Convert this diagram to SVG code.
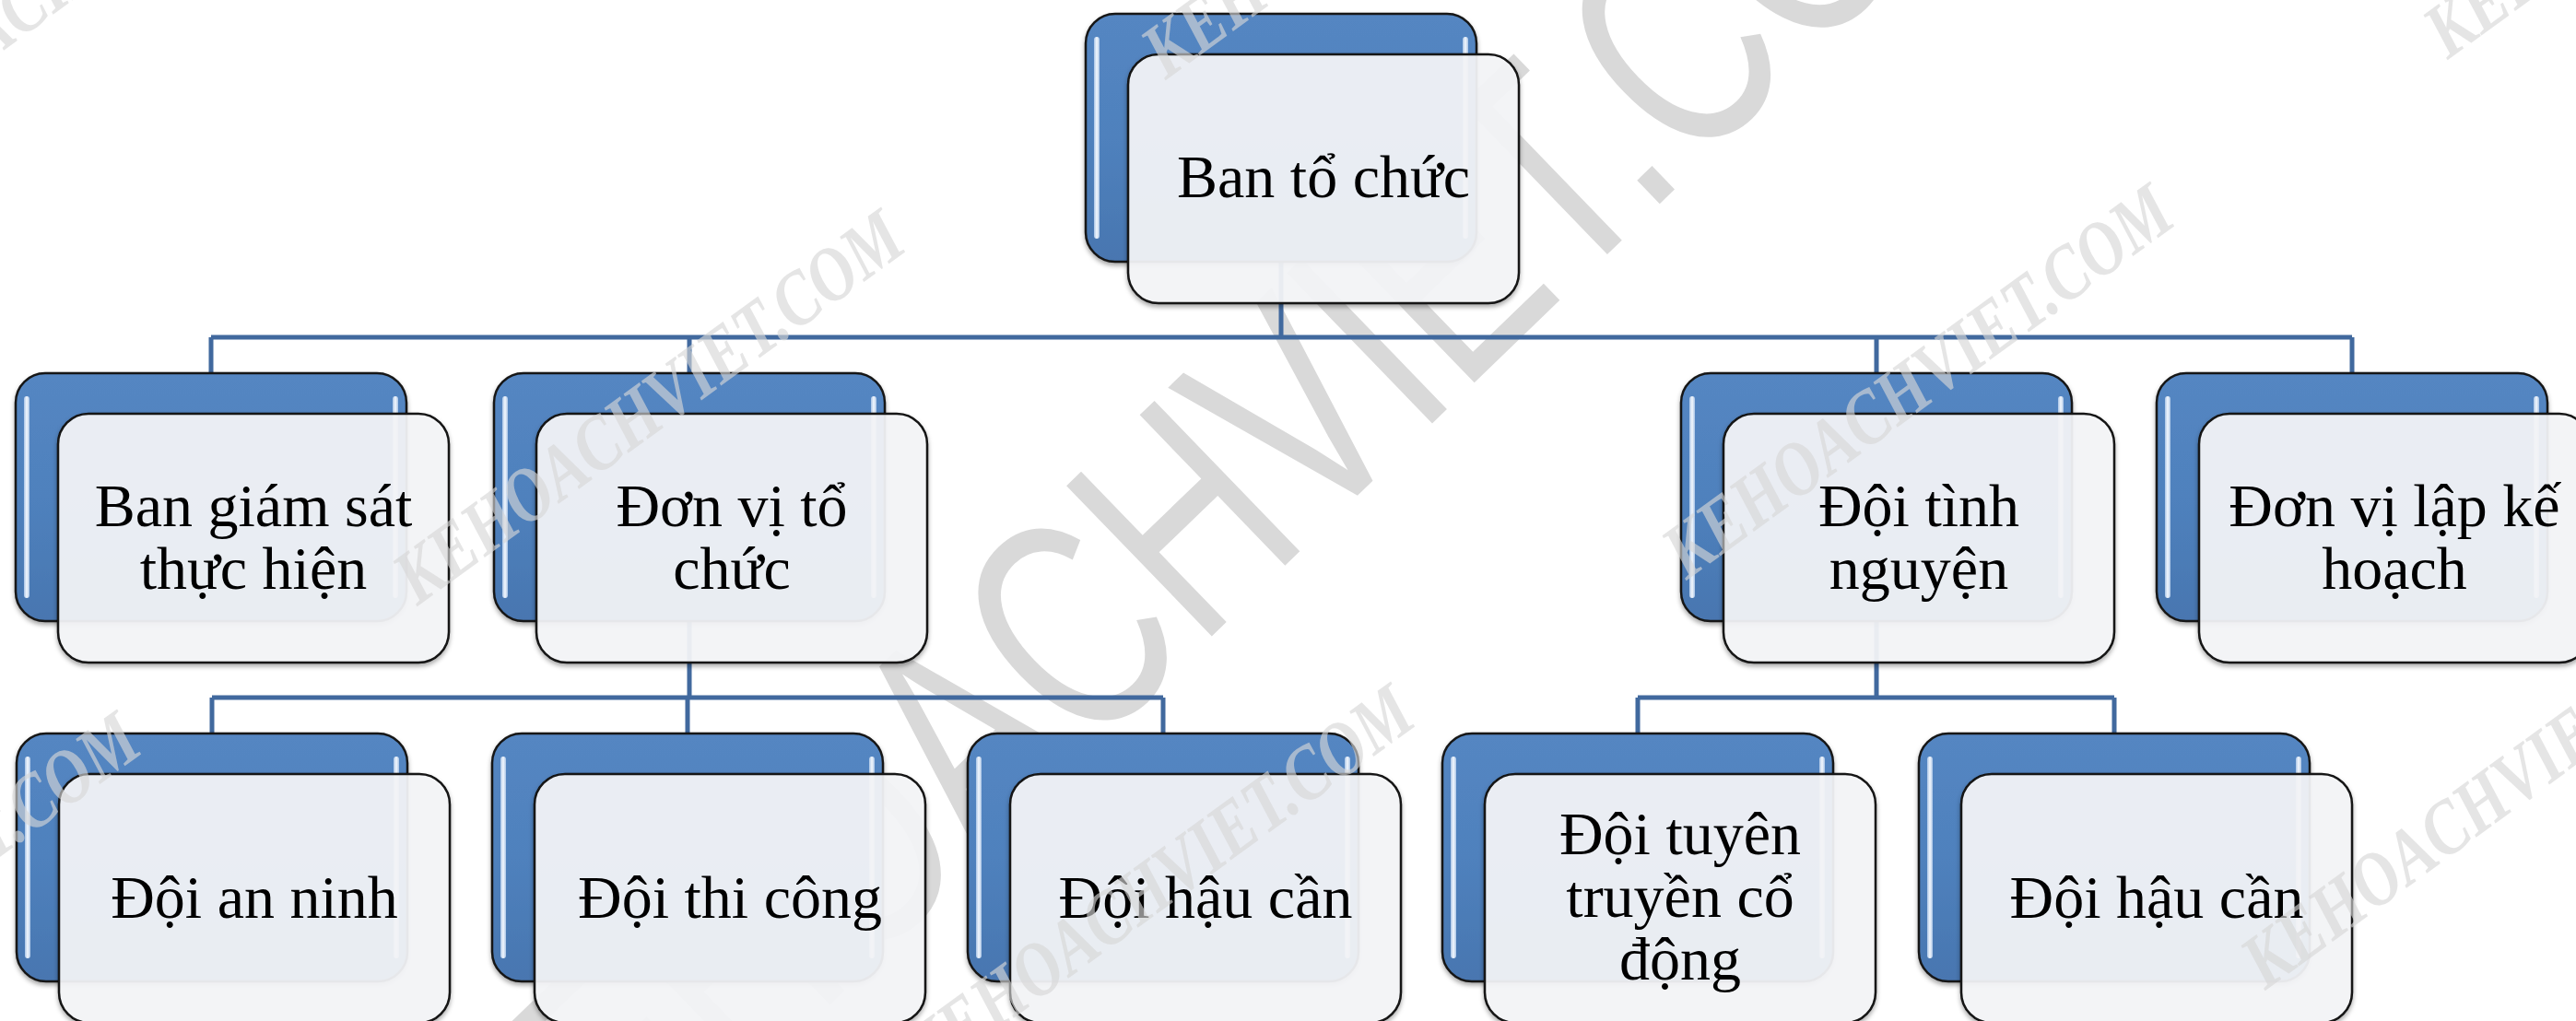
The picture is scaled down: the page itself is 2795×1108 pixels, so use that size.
<svg xmlns="http://www.w3.org/2000/svg" width="2795" height="1108" viewBox="0 0 2795 1108">
<defs>
<style>
.back{fill:url(#blueGrad);stroke:#161616;stroke-width:2.5;}
.hl{fill:url(#hlGrad);}
.front{fill:#F5F6F8;fill-opacity:0.92;stroke:#121212;stroke-width:2.5;}
.conn{stroke:#41699E;stroke-width:5;fill:none;}
.lbl{font-family:"Liberation Serif","Times New Roman",serif;font-size:66px;fill:#000;text-anchor:middle;}
.wm{font-family:"Liberation Serif","Times New Roman",serif;font-weight:bold;font-style:italic;font-size:84px;fill:#D6D6D6;fill-opacity:0.64;}
.bigwm{font-family:"Liberation Sans",Arial,sans-serif;font-size:330px;fill:#D9D9D9;}
</style>
<linearGradient id="blueGrad" x1="0" y1="0" x2="0" y2="1">
<stop offset="0" stop-color="#5486C2"/>
<stop offset="0.5" stop-color="#4F81BD"/>
<stop offset="1" stop-color="#4876B0"/>
</linearGradient>
<linearGradient id="hlGrad" x1="0" y1="0" x2="1" y2="0">
<stop offset="0" stop-color="#A9C4E6"/>
<stop offset="0.5" stop-color="#F4F8FD"/>
<stop offset="1" stop-color="#A9C4E6"/>
</linearGradient>
<filter id="sh" x="-5%" y="-5%" width="110%" height="115%">
<feDropShadow dx="0" dy="3" stdDeviation="2.5" flood-color="#000" flood-opacity="0.35"/>
</filter>
</defs>

<rect x="0" y="0" width="2795" height="1108" fill="#FFFFFF"/>

<g id="watermark-big">
<text class="bigwm" transform="translate(579 1401) rotate(-44) scale(0.72 1)">KEHOACHVIET.COM</text>
</g>

<g id="connectors" class="conn">
<path d="M1390 283 V366 M229 366 H2552 M229 366 V405 M748 366 V405 M2036 366 V405 M2552 366 V405"/>
<path d="M748 674 V757 M230 757 H1262 M230 757 V796 M746 757 V796 M1262 757 V796"/>
<path d="M2036 674 V757 M1777 757 H2294 M1777 757 V796 M2294 757 V796"/>
</g>

<g id="node-ban-to-chuc" transform="translate(1178 15)">
<rect class="back" filter="url(#sh)" x="0" y="0" width="424" height="269" rx="32"/>
<rect class="hl" x="9" y="25" width="6" height="219" rx="3"/>
<rect class="hl" x="409" y="25" width="6" height="219" rx="3"/>
<rect class="front" filter="url(#sh)" x="46" y="44" width="424" height="270" rx="33"/>
<text class="lbl" x="258" y="199">Ban tổ chức</text>
</g>

<g id="node-ban-giam-sat" transform="translate(17 405)">
<rect class="back" filter="url(#sh)" x="0" y="0" width="424" height="269" rx="32"/>
<rect class="hl" x="9" y="25" width="6" height="219" rx="3"/>
<rect class="hl" x="409" y="25" width="6" height="219" rx="3"/>
<rect class="front" filter="url(#sh)" x="46" y="44" width="424" height="270" rx="33"/>
<text class="lbl" x="258" y="166">Ban giám sát</text>
<text class="lbl" x="258" y="234">thực hiện</text>
</g>

<g id="node-don-vi-to-chuc" transform="translate(536 405)">
<rect class="back" filter="url(#sh)" x="0" y="0" width="424" height="269" rx="32"/>
<rect class="hl" x="9" y="25" width="6" height="219" rx="3"/>
<rect class="hl" x="409" y="25" width="6" height="219" rx="3"/>
<rect class="front" filter="url(#sh)" x="46" y="44" width="424" height="270" rx="33"/>
<text class="lbl" x="258" y="166">Đơn vị tổ</text>
<text class="lbl" x="258" y="234">chức</text>
</g>

<g id="node-doi-tinh-nguyen" transform="translate(1824 405)">
<rect class="back" filter="url(#sh)" x="0" y="0" width="424" height="269" rx="32"/>
<rect class="hl" x="9" y="25" width="6" height="219" rx="3"/>
<rect class="hl" x="409" y="25" width="6" height="219" rx="3"/>
<rect class="front" filter="url(#sh)" x="46" y="44" width="424" height="270" rx="33"/>
<text class="lbl" x="258" y="166">Đội tình</text>
<text class="lbl" x="258" y="234">nguyện</text>
</g>

<g id="node-don-vi-lap-ke-hoach" transform="translate(2340 405)">
<rect class="back" filter="url(#sh)" x="0" y="0" width="424" height="269" rx="32"/>
<rect class="hl" x="9" y="25" width="6" height="219" rx="3"/>
<rect class="hl" x="409" y="25" width="6" height="219" rx="3"/>
<rect class="front" filter="url(#sh)" x="46" y="44" width="424" height="270" rx="33"/>
<text class="lbl" x="258" y="166">Đơn vị lập kế</text>
<text class="lbl" x="258" y="234">hoạch</text>
</g>

<g id="node-doi-an-ninh" transform="translate(18 796)">
<rect class="back" filter="url(#sh)" x="0" y="0" width="424" height="269" rx="32"/>
<rect class="hl" x="9" y="25" width="6" height="219" rx="3"/>
<rect class="hl" x="409" y="25" width="6" height="219" rx="3"/>
<rect class="front" filter="url(#sh)" x="46" y="44" width="424" height="270" rx="33"/>
<text class="lbl" x="258" y="200">Đội an ninh</text>
</g>

<g id="node-doi-thi-cong" transform="translate(534 796)">
<rect class="back" filter="url(#sh)" x="0" y="0" width="424" height="269" rx="32"/>
<rect class="hl" x="9" y="25" width="6" height="219" rx="3"/>
<rect class="hl" x="409" y="25" width="6" height="219" rx="3"/>
<rect class="front" filter="url(#sh)" x="46" y="44" width="424" height="270" rx="33"/>
<text class="lbl" x="258" y="200">Đội thi công</text>
</g>

<g id="node-doi-hau-can-1" transform="translate(1050 796)">
<rect class="back" filter="url(#sh)" x="0" y="0" width="424" height="269" rx="32"/>
<rect class="hl" x="9" y="25" width="6" height="219" rx="3"/>
<rect class="hl" x="409" y="25" width="6" height="219" rx="3"/>
<rect class="front" filter="url(#sh)" x="46" y="44" width="424" height="270" rx="33"/>
<text class="lbl" x="258" y="200">Đội hậu cần</text>
</g>

<g id="node-doi-tuyen-truyen" transform="translate(1565 796)">
<rect class="back" filter="url(#sh)" x="0" y="0" width="424" height="269" rx="32"/>
<rect class="hl" x="9" y="25" width="6" height="219" rx="3"/>
<rect class="hl" x="409" y="25" width="6" height="219" rx="3"/>
<rect class="front" filter="url(#sh)" x="46" y="44" width="424" height="270" rx="33"/>
<text class="lbl" x="258" y="131">Đội tuyên</text>
<text class="lbl" x="258" y="199">truyền cổ</text>
<text class="lbl" x="258" y="267">động</text>
</g>

<g id="node-doi-hau-can-2" transform="translate(2082 796)">
<rect class="back" filter="url(#sh)" x="0" y="0" width="424" height="269" rx="32"/>
<rect class="hl" x="9" y="25" width="6" height="219" rx="3"/>
<rect class="hl" x="409" y="25" width="6" height="219" rx="3"/>
<rect class="front" filter="url(#sh)" x="46" y="44" width="424" height="270" rx="33"/>
<text class="lbl" x="258" y="200">Đội hậu cần</text>
</g>

<g id="watermarks-small">
<text class="wm" textLength="660" lengthAdjust="spacingAndGlyphs" transform="translate(453 658) rotate(-36)">KEHOACHVIET.COM</text>
<text class="wm" textLength="660" lengthAdjust="spacingAndGlyphs" transform="translate(1830 630) rotate(-36)">KEHOACHVIET.COM</text>
<text class="wm" textLength="660" lengthAdjust="spacingAndGlyphs" transform="translate(1006 1173) rotate(-36)">KEHOACHVIET.COM</text>
<text class="wm" textLength="660" lengthAdjust="spacingAndGlyphs" transform="translate(-376 1203) rotate(-36)">KEHOACHVIET.COM</text>
<text class="wm" textLength="660" lengthAdjust="spacingAndGlyphs" transform="translate(2458 1075) rotate(-36)">KEHOACHVIET.COM</text>
<text class="wm" textLength="660" lengthAdjust="spacingAndGlyphs" transform="translate(1265 87) rotate(-36)">KEHOACHVIET.COM</text>
<text class="wm" textLength="660" lengthAdjust="spacingAndGlyphs" transform="translate(-171 182) rotate(-36)">KEHOACHVIET.COM</text>
<text class="wm" textLength="660" lengthAdjust="spacingAndGlyphs" transform="translate(2656 65) rotate(-36)">KEHOACHVIET.COM</text>
</g>
</svg>
